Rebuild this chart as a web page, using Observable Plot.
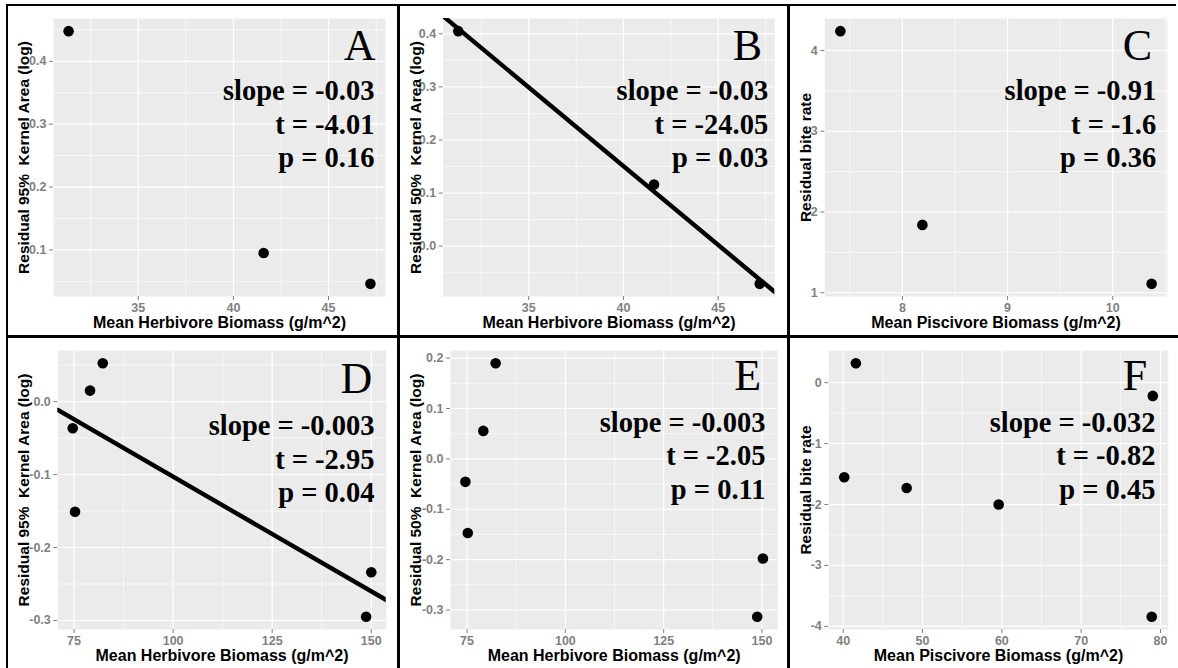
<!DOCTYPE html>
<html><head><meta charset="utf-8">
<script src="https://cdn.jsdelivr.net/npm/d3@7"></script>
<script src="https://cdn.jsdelivr.net/npm/@observablehq/plot@0.6"></script>
<style>
body{margin:0;background:#fff;}
#wrap{position:relative;width:1178px;height:668px;overflow:hidden;background:#fff;}
#wrap svg{position:absolute;}
.bd{position:absolute;background:#000;z-index:5;}
</style></head><body><div id="wrap"></div>
<script>
// ---- data ----
const aX = [31.34, 41.59, 47.2];
const aY = [0.448, 0.095, 0.046];
const bX = [31.28, 41.61, 47.19];
const bY = [0.405, 0.116, -0.071];
const bLineX = [30.49, 47.99];
const bLineY = [0.433, -0.0865];
const cX = [7.41, 8.19, 10.37];
const cY = [4.24, 1.84, 1.11];
const dX = [74.67, 75.25, 79.04, 82.25, 150.0, 148.7];
const dY = [-0.0365, -0.151, 0.0151, 0.0527, -0.234, -0.295];
const dLineX = [70.9, 153.8];
const dLineY = [-0.0114, -0.272];
const eX = [74.57, 75.18, 79.13, 82.27, 150.25, 148.8];
const eY = [-0.0456, -0.147, 0.0556, 0.190, -0.1976, -0.3135];
const fX = [41.6, 40.13, 48.0, 59.6, 79.03, 78.9];
const fY = [0.319, -1.553, -1.729, -2.0, -0.218, -3.842];

const letters = ["A", "B", "C", "D", "E", "F"];
const statsA = ["slope = -0.03", "t = -4.01", "p = 0.16"];
const statsB = ["slope = -0.03", "t = -24.05", "p = 0.03"];
const statsC = ["slope = -0.91", "t = -1.6", "p = 0.36"];
const statsD = ["slope = -0.003", "t = -2.95", "p = 0.04"];
const statsE = ["slope = -0.003", "t = -2.05", "p = 0.11"];
const statsF = ["slope = -0.032", "t = -0.82", "p = 0.45"];

const xLabHerb = "Mean Herbivore Biomass (g/m^2)";
const xLabPisc = "Mean Piscivore Biomass (g/m^2)";
const yLab95 = "Residual 95%\u00a0 Kernel Area (log)";
const yLab50 = "Residual 50%\u00a0 Kernel Area (log)";
const yLabBite = "Residual bite rate";

const xTicksAB = [35, 40, 45], xMinorAB = [32.5, 37.5, 42.5, 47.5];
const yTicksA = [0.1, 0.2, 0.3, 0.4], yMinorA = [0.05, 0.15, 0.25, 0.35, 0.45];
const yTicksB = [0.0, 0.1, 0.2, 0.3, 0.4], yMinorB = [-0.05, 0.05, 0.15, 0.25, 0.35];
const xTicksC = [8, 9, 10], xMinorC = [7.5, 8.5, 9.5, 10.5];
const yTicksC = [1, 2, 3, 4], yMinorC = [1.5, 2.5, 3.5];
const xTicksDE = [75, 100, 125, 150], xMinorDE = [87.5, 112.5, 137.5];
const yTicksD = [-0.3, -0.2, -0.1, 0.0], yMinorD = [-0.25, -0.15, -0.05, 0.05];
const yTicksE = [-0.3, -0.2, -0.1, 0.0, 0.1, 0.2], yMinorE = [-0.25, -0.15, -0.05, 0.05, 0.15];
const xTicksF = [40, 50, 60, 70, 80], xMinorF = [45, 55, 65, 75];
const yTicksF = [-4, -3, -2, -1, 0], yMinorF = [-3.5, -2.5, -1.5, -0.5];

// ---- layout / style ----
const f1 = d => d.toFixed(1);
const f0 = d => d.toFixed(0);
const panels = [
  {L: letters[0], x: aX, y: aY, stats: statsA, xl: xLabHerb, yl: yLab95, xt: xTicksAB, xm: xMinorAB, yt: yTicksA, ym: yMinorA, xf: f0, yf: f1,
   left: 6, top: 4, w: 392, h: 332, mL: 47, mR: 13, mT: 14, mB: 40, li: 10, lb: 41.3, si: 11, sb: 148.7},
  {L: letters[1], x: bX, y: bY, lx: bLineX, ly: bLineY, stats: statsB, xl: xLabHerb, yl: yLab50, xt: xTicksAB, xm: xMinorAB, yt: yTicksB, ym: yMinorB, xf: f0, yf: f1,
   left: 398, top: 4, w: 390, h: 332, mL: 44.7, mR: 13.7, mT: 14, mB: 40, li: 12.6, lb: 41.3, si: 6.6, sb: 148.7},
  {L: letters[2], x: cX, y: cY, stats: statsC, xl: xLabPisc, yl: yLabBite, xt: xTicksC, xm: xMinorC, yt: yTicksC, ym: yMinorC, xf: f0, yf: f0,
   left: 788, top: 4, w: 390, h: 332, mL: 36.3, mR: 11.3, mT: 14, mB: 40, li: 15, lb: 41.3, si: 11, sb: 148.7},
  {L: letters[3], x: dX, y: dY, lx: dLineX, ly: dLineY, stats: statsD, xl: xLabHerb, yl: yLab95, xt: xTicksDE, xm: xMinorDE, yt: yTicksD, ym: yMinorD, xf: f0, yf: f1,
   left: 6, top: 336, w: 392, h: 332, mL: 51.3, mR: 12.3, mT: 14, mB: 39, li: 14, lb: 42.3, si: 11.7, sb: 151.7},
  {L: letters[4], x: eX, y: eY, stats: statsE, xl: xLabHerb, yl: yLab50, xt: xTicksDE, xm: xMinorDE, yt: yTicksE, ym: yMinorE, xf: f0, yf: f1,
   left: 398, top: 336, w: 390, h: 332, mL: 52, mR: 10.7, mT: 14, mB: 39, li: 16.6, lb: 39, si: 12.3, sb: 148.3},
  {L: letters[5], x: fX, y: fY, stats: statsF, xl: xLabPisc, yl: yLabBite, xt: xTicksF, xm: xMinorF, yt: yTicksF, ym: yMinorF, xf: f0, yf: f0,
   left: 788, top: 336, w: 390, h: 332, mL: 40.3, mR: 10.3, mT: 14, mB: 39, li: 21, lb: 39, si: 12.7, sb: 148.3}
];

function expand(v) {
  const [lo, hi] = d3.extent(v);
  const r = hi - lo;
  return [lo - 0.05 * r, hi + 0.05 * r];
}

const sans = "Liberation Sans, Arial, sans-serif";
const serif = "Liberation Serif, Times New Roman, serif";
const tickCol = "#7f7f7f";
const wrap = document.getElementById("wrap");

for (const p of panels) {
  const pts = p.x.map((x, i) => ({x, y: p.y[i]}));
  const marks = [
    Plot.frame({fill: "#EBEBEB", stroke: "none"}),
    Plot.gridX(p.xm, {stroke: "white", strokeOpacity: 1, strokeWidth: 0.6}),
    Plot.gridY(p.ym, {stroke: "white", strokeOpacity: 1, strokeWidth: 0.6}),
    Plot.gridX(p.xt, {stroke: "white", strokeOpacity: 1, strokeWidth: 1.2}),
    Plot.gridY(p.yt, {stroke: "white", strokeOpacity: 1, strokeWidth: 1.2})
  ];
  if (p.lx) {
    const ln = p.lx.map((x, i) => ({x, y: p.ly[i]}));
    marks.push(Plot.line(ln, {x: "x", y: "y", stroke: "black", strokeWidth: 4.4, clip: true}));
  }
  marks.push(
    Plot.dot(pts, {x: "x", y: "y", r: 5.3, fill: "black", stroke: "none"}),
    Plot.text([p.L], {text: d => d, frameAnchor: "top-right", textAnchor: "end", lineAnchor: "bottom",
      dx: -p.li, dy: p.lb, fontFamily: serif, fontSize: 44, fill: "black"}),
    Plot.text([p.stats.join("\n")], {text: d => d, frameAnchor: "top-right", textAnchor: "end", lineAnchor: "bottom",
      lineHeight: 1.18, dx: -p.si, dy: p.sb, fontFamily: serif, fontWeight: "bold", fontSize: 28.5, fill: "black"}),
    Plot.axisX(p.xt, {tickSize: 4, tickPadding: 3, tickFormat: p.xf, color: tickCol, fontSize: 12.5, fontWeight: "bold", fontFamily: sans, label: null}),
    Plot.axisY(p.yt, {tickSize: 4, tickPadding: 3, tickFormat: p.yf, color: tickCol, fontSize: 12.5, fontWeight: "bold", fontFamily: sans, label: null}),
    Plot.text([p.xl], {text: d => d, frameAnchor: "bottom", lineAnchor: "bottom", dy: 31,
      fontFamily: sans, fontWeight: "bold", fontSize: 16, fill: "black"}),
    Plot.text([p.yl], {text: d => d, frameAnchor: "left", rotate: -90, textAnchor: "middle", lineAnchor: "middle",
      dx: 18 - p.mL, fontFamily: sans, fontWeight: "bold", fontSize: 15.5, fill: "black"})
  );
  const svg = Plot.plot({
    width: p.w, height: p.h,
    marginLeft: p.mL, marginRight: p.mR, marginTop: p.mT, marginBottom: p.mB,
    x: {domain: expand(p.x)},
    y: {domain: expand(p.y)},
    style: {background: "transparent", overflow: "visible", fontFamily: sans},
    marks
  });
  svg.style.left = p.left + "px";
  svg.style.top = p.top + "px";
  wrap.appendChild(svg);
}

// panel borders
const borders = [
  {l: 5.5, t: 3.5, w: 2, h: 665},
  {l: 5.5, t: 3.5, w: 1170, h: 2},
  {l: 397, t: 3.5, w: 3, h: 665},
  {l: 787, t: 3.5, w: 3, h: 665},
  {l: 5.5, t: 335, w: 1173, h: 3}
];
for (const b of borders) {
  const el = document.createElement("div");
  el.className = "bd";
  el.style.left = b.l + "px"; el.style.top = b.t + "px";
  el.style.width = b.w + "px"; el.style.height = b.h + "px";
  wrap.appendChild(el);
}
</script></body></html>
